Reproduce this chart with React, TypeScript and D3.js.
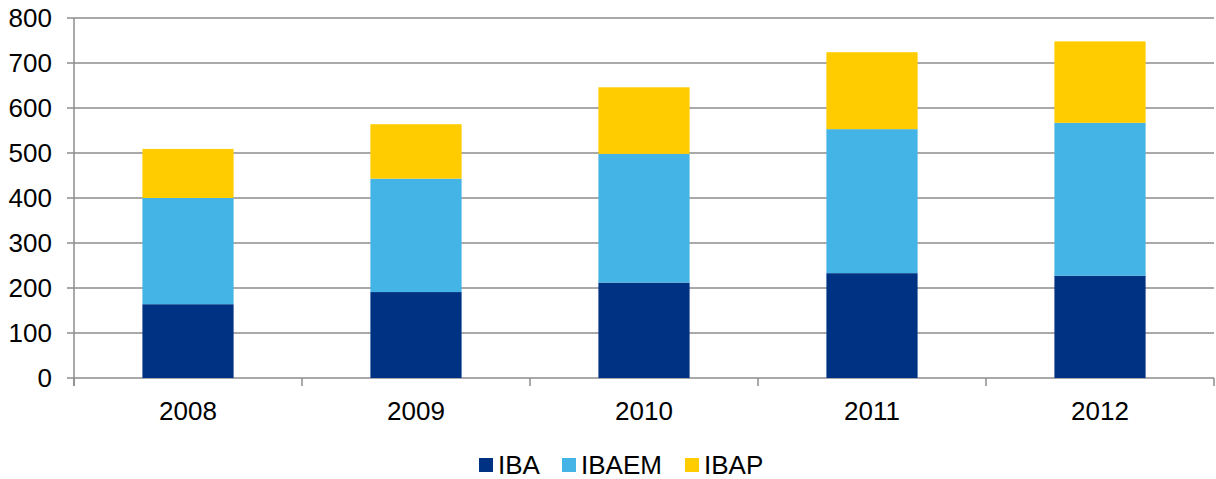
import React from "react";
import * as d3 from "d3";

const years = ["2008", "2009", "2010", "2011", "2012"];
const seriesNames = ["IBA", "IBAEM", "IBAP"];
const iba = [164, 191, 212, 233, 227];
const ibaem = [236, 252, 286, 320, 340];
const ibap = [109, 121, 148, 171, 181];
const colors = ["#003283", "#43b4e5", "#ffcc00"];
const yTicks = [0, 100, 200, 300, 400, 500, 600, 700, 800];

const W = 1216;
const H = 479;
const left = 74;
const right = 1214;
const top = 18;
const bottom = 378;
const font = "'Liberation Sans', Arial, sans-serif";

export default function App() {
  const x = d3.scaleBand<string>().domain(years).range([left, right]).paddingInner(0.6).paddingOuter(0.3);
  const xb = d3.scaleBand<string>().domain(years).range([left, right]);
  const y = d3.scaleLinear().domain([0, 800]).range([bottom, top]);

  const rows = years.map((yr, i) => ({ year: yr, IBA: iba[i], IBAEM: ibaem[i], IBAP: ibap[i] }));
  const stacked = d3.stack<any>().keys(seriesNames)(rows);

  const boundaries = [...years.map((yr) => xb(yr)!), right];

  const legendItems = [
    { name: "IBA", sx: 479, tx: 498 },
    { name: "IBAEM", sx: 562, tx: 581 },
    { name: "IBAP", sx: 685, tx: 704 },
  ];

  return (
    <svg width={W} height={H} style={{ position: "absolute", left: 0, top: 0 }} fontFamily={font}>
      <rect width={W} height={H} fill="#fff" />
      {yTicks.map((t) => (
        <g key={t}>
          <line x1={67} x2={right} y1={y(t)} y2={y(t)} stroke="#8c8c8c" strokeWidth={1.5} />
          <text x={52} y={y(t)} dy="0.36em" textAnchor="end" fontSize={26} fill="#000">
            {t}
          </text>
        </g>
      ))}
      <line x1={left} x2={left} y1={top} y2={386} stroke="#8c8c8c" strokeWidth={1.5} />
      {boundaries.map((bx, i) => (
        <line key={i} x1={bx} x2={bx} y1={bottom} y2={386} stroke="#8c8c8c" strokeWidth={1.5} />
      ))}
      {stacked.map((s, si) => (
        <g key={s.key} fill={colors[si]}>
          {s.map((d, i) => (
            <rect
              key={i}
              x={x(years[i])!}
              width={x.bandwidth()}
              y={y(d[1])}
              height={y(d[0]) - y(d[1])}
            />
          ))}
        </g>
      ))}
      {years.map((yr) => (
        <text key={yr} x={xb(yr)! + xb.bandwidth() / 2} y={420} textAnchor="middle" fontSize={26} fill="#000">
          {yr}
        </text>
      ))}
      {legendItems.map((l, i) => (
        <g key={l.name}>
          <rect x={l.sx} y={458} width={14} height={14} fill={colors[i]} />
          <text x={l.tx} y={474} fontSize={26} fill="#000">
            {seriesNames[i]}
          </text>
        </g>
      ))}
    </svg>
  );
}
